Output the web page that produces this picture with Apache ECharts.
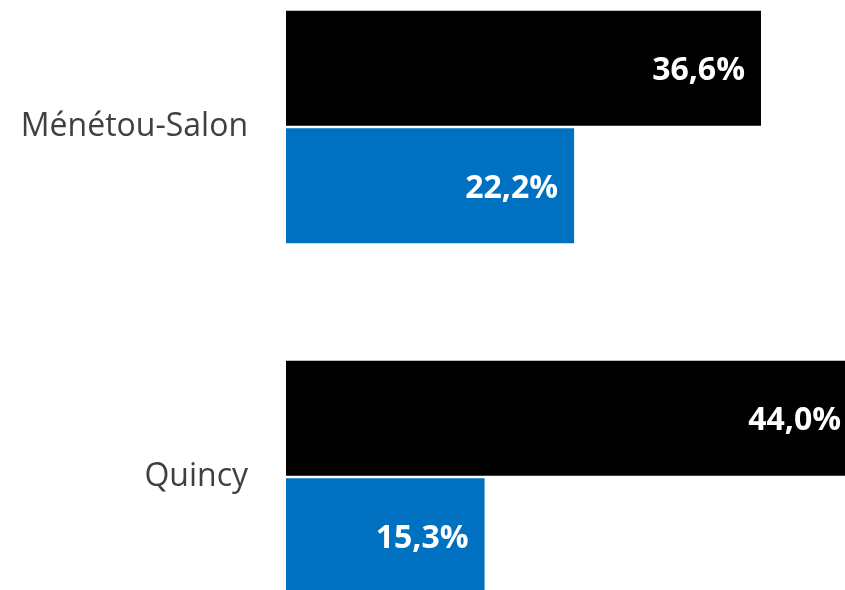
<!DOCTYPE html>
<html>
<head>
<meta charset="utf-8">
<script src="https://cdn.jsdelivr.net/npm/echarts@6/dist/echarts.min.js"></script>
<style>
html, body { margin: 0; padding: 0; background: #fff; overflow: hidden; }
#main { width: 870px; height: 700px; margin-top: -48px; }
</style>
</head>
<body>
<div id="main"></div>
<script>
var categories = ['Ménétou-Salon', 'Quincy'];
var serieNoire = [36.6, 44.0];
var serieBleue = [22.2, 15.3];

var chart = echarts.init(document.getElementById('main'));

function fmt(p) {
    return p.value.toFixed(1).replace('.', ',') + '%';
}

var labelStyle = {
    show: true,
    position: 'insideRight',
    distance: 16,
    offset: [0, 3],
    color: '#fff',
    fontFamily: 'Open Sans',
    fontWeight: 'bold',
    fontSize: 32,
    formatter: fmt
};

option = {
    animation: false,
    backgroundColor: '#fff',
    grid: {
        left: 286,
        right: 0,
        top: 0,
        bottom: 0
    },
    xAxis: {
        type: 'value',
        min: 0,
        max: 45,
        show: false
    },
    yAxis: {
        type: 'category',
        inverse: true,
        data: categories,
        axisLine: { show: false },
        axisTick: { show: false },
        axisLabel: {
            margin: 38,
            padding: [7, 0, 0, 0],
            color: '#404040',
            fontFamily: 'Open Sans',
            fontSize: 32
        }
    },
    series: [{
        name: 'noir',
        type: 'bar',
        barWidth: 115,
        barGap: '2%',
        itemStyle: { color: '#000' },
        label: labelStyle,
        data: serieNoire
    }, {
        name: 'bleu',
        type: 'bar',
        barWidth: 115,
        itemStyle: { color: '#0070C0' },
        label: labelStyle,
        data: serieBleue
    }]
};

chart.setOption(option);
</script>
</body>
</html>
